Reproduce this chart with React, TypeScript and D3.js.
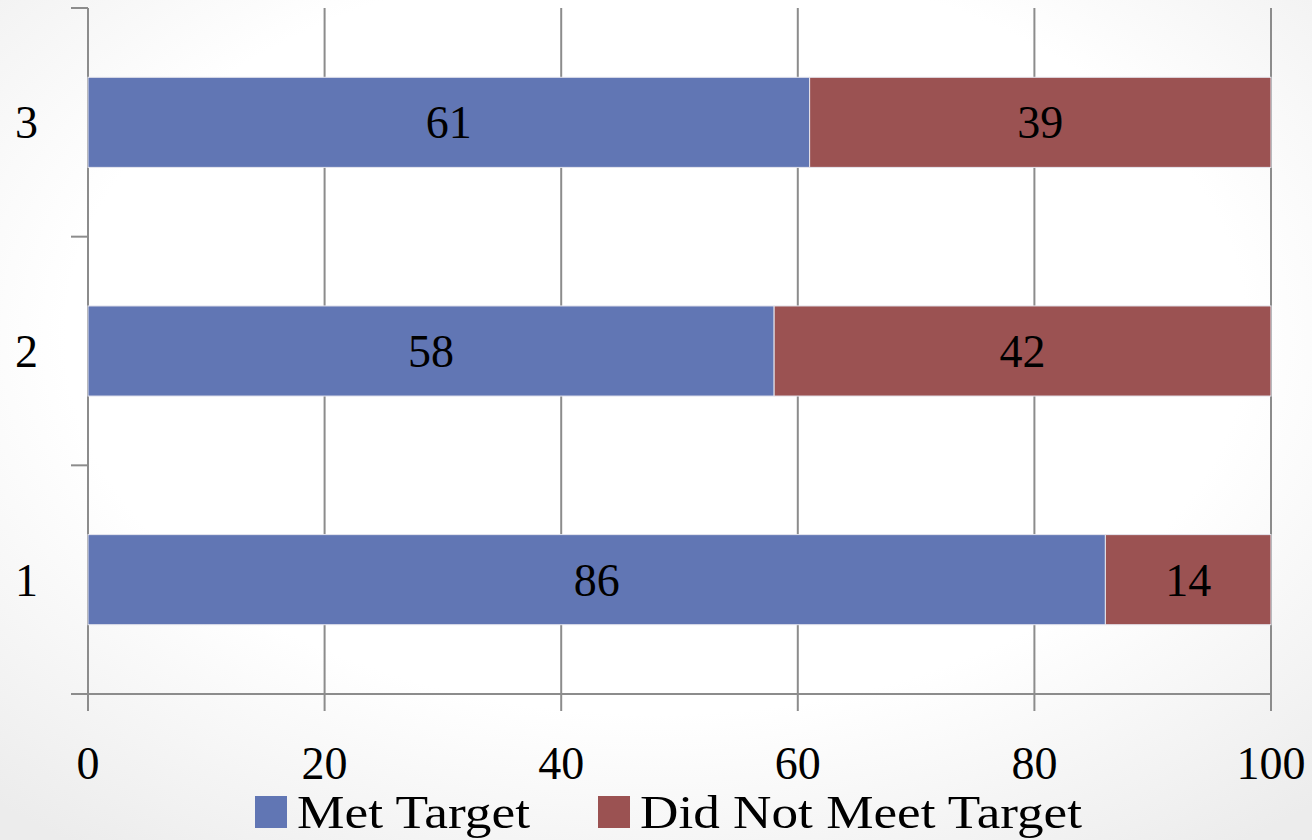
import { useEffect, useRef } from 'react';
import * as d3 from 'd3';

const categories = ['1', '2', '3'];
const metTarget = [86, 58, 61];
const didNotMeet = [14, 42, 39];
const seriesNames = ['Met Target', 'Did Not Meet Target'];
const seriesColors = ['#6176b4', '#9b5252'];
const xTicks = [0, 20, 40, 60, 80, 100];

const App = () => {
    const svgRef = useRef<SVGSVGElement>(null);

    useEffect(() => {
        const root = d3.select(svgRef.current);
        root.selectAll('*').remove();

        const W = 1312, H = 840;
        const font = '"Liberation Serif", "DejaVu Serif", serif';

        // Background with soft radial shading
        const defs = root.append('defs');
        const grad = defs.append('radialGradient')
            .attr('id', 'bg-grad')
            .attr('cx', '50%').attr('cy', '40%').attr('r', '75%');
        grad.append('stop').attr('offset', '0%').attr('stop-color', '#ffffff');
        grad.append('stop').attr('offset', '60%').attr('stop-color', '#ffffff');
        grad.append('stop').attr('offset', '100%').attr('stop-color', '#ececec');
        root.append('rect').attr('width', W).attr('height', H).attr('fill', 'url(#bg-grad)');

        const left = 88, right = 1271, top = 8, bottom = 694;

        const x = d3.scaleLinear().domain([0, 100]).range([left, right]);
        const y = d3.scaleBand<string>()
            .domain([...categories].reverse())
            .range([top, bottom])
            .paddingInner(0.606)
            .paddingOuter(0.303);

        const rows = categories.map((c, i) => ({ cat: c, values: [metTarget[i], didNotMeet[i]] }));

        // Vertical gridlines + bottom ticks
        const g = root.append('g');
        g.selectAll('line.grid')
            .data(xTicks)
            .join('line')
            .attr('x1', d => x(d)).attr('x2', d => x(d))
            .attr('y1', top).attr('y2', bottom + 17)
            .attr('stroke', '#8c8c8c')
            .attr('stroke-width', 2);

        // Left axis ticks at band boundaries
        const boundaries = [top, ...categories.map((_, i) => top + (i + 1) * (bottom - top) / categories.length)];
        g.selectAll('line.ytick')
            .data(boundaries)
            .join('line')
            .attr('x1', left - 17).attr('x2', left)
            .attr('y1', d => d).attr('y2', d => d)
            .attr('stroke', '#8c8c8c')
            .attr('stroke-width', 2);

        // Bottom axis line
        g.append('line')
            .attr('x1', left - 17).attr('x2', right)
            .attr('y1', bottom).attr('y2', bottom)
            .attr('stroke', '#8c8c8c')
            .attr('stroke-width', 2);

        // Bars
        rows.forEach(r => {
            let acc = 0;
            r.values.forEach((v, si) => {
                const x0 = acc;
                acc += v;
                root.append('rect')
                    .attr('x', x(x0))
                    .attr('y', y(r.cat)!)
                    .attr('width', x(acc) - x(x0))
                    .attr('height', y.bandwidth())
                    .attr('fill', seriesColors[si])
                    .attr('stroke', '#e6e6ee')
                    .attr('stroke-width', 1);
                root.append('text')
                    .attr('x', (x(x0) + x(acc)) / 2)
                    .attr('y', y(r.cat)! + y.bandwidth() / 2)
                    .attr('dy', '0.35em')
                    .attr('text-anchor', 'middle')
                    .attr('font-family', font)
                    .attr('font-size', 46)
                    .attr('fill', '#000')
                    .text(v);
            });
        });

        // Category labels
        root.selectAll('text.cat')
            .data(categories)
            .join('text')
            .attr('x', 38)
            .attr('y', d => y(d)! + y.bandwidth() / 2)
            .attr('dy', '0.35em')
            .attr('text-anchor', 'end')
            .attr('font-family', font)
            .attr('font-size', 46)
            .text(d => d);

        // X tick labels
        root.selectAll('text.xt')
            .data(xTicks)
            .join('text')
            .attr('x', d => x(d))
            .attr('y', 779)
            .attr('text-anchor', 'middle')
            .attr('font-family', font)
            .attr('font-size', 46)
            .text(d => d);

        // Legend (widths stretched to match the wider original face)
        const legendX = [255, 598];
        const legendTextW = [233, 442];
        seriesNames.forEach((name, i) => {
            root.append('rect')
                .attr('x', legendX[i]).attr('y', 796)
                .attr('width', 32).attr('height', 32)
                .attr('fill', seriesColors[i]);
            root.append('text')
                .attr('x', legendX[i] + 42)
                .attr('y', 828)
                .attr('font-family', font)
                .attr('font-size', 47)
                .attr('textLength', legendTextW[i])
                .attr('lengthAdjust', 'spacingAndGlyphs')
                .text(name);
        });
    }, []);

    return (
        <svg
            ref={svgRef}
            width={1312}
            height={840}
            style={{ position: 'absolute', left: 0, top: 0, display: 'block' }}
        />
    );
};

export default App;
